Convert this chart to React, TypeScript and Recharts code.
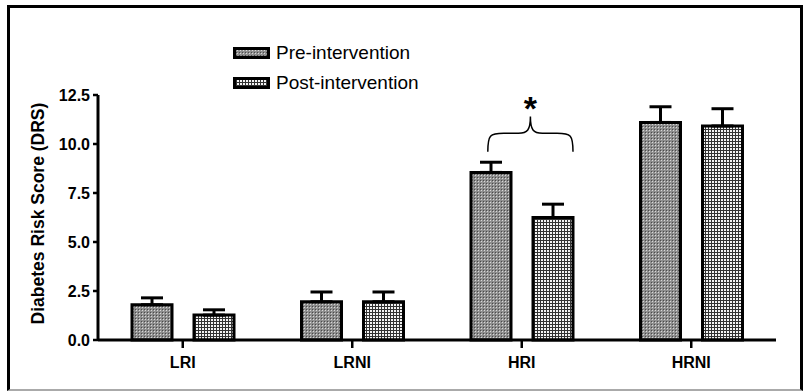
import { BarChart, Bar, XAxis, YAxis, ErrorBar } from 'recharts';

const groups = ['LRI', 'LRNI', 'HRI', 'HRNI'];
const preValues = [1.8, 1.95, 8.55, 11.1];
const preErrors = [0.35, 0.5, 0.52, 0.8];
const postValues = [1.27, 1.95, 6.25, 10.92];
const postErrors = [0.27, 0.5, 0.68, 0.88];
const yTicks = [0, 2.5, 5, 7.5, 10, 12.5];

const seriesNames = ['Pre-intervention', 'Post-intervention'];
const patternIds = ['prePattern', 'postPattern'];

const chartData = groups.map((g, i) => ({
    name: g,
    pre: preValues[i],
    preErr: [0, preErrors[i]],
    post: postValues[i],
    postErr: [0, postErrors[i]],
}));

const FONT = '"Liberation Sans", Arial, sans-serif';

// brace + asterisk over the HRI pair, placed from the pre bar geometry
function BraceLabel(props: any) {
    const { x, y, width, height, value, index } = props;
    if (index !== 2) return null;
    const perUnit = height / value;
    const base = y + height;
    const yAt = (v: number) => base - v * perUnit;
    const gap = 22;
    const left = x + width * 0.42;
    const right = x + 2 * width + gap;
    const mid = (left + right) / 2;
    const yEnd = yAt(9.6);
    const yBar = yAt(10.55);
    const yTip = yAt(11.4);
    const r = 8;
    const d = `M${left},${yEnd} C${left},${yBar + 2} ${left + 2},${yBar} ${left + r * 2},${yBar}
        L${mid - r * 1.5},${yBar} C${mid - 3},${yBar} ${mid},${yBar - 3} ${mid},${yTip}
        C${mid},${yBar - 3} ${mid + 3},${yBar} ${mid + r * 1.5},${yBar}
        L${right - r * 2},${yBar} C${right - 2},${yBar} ${right},${yBar + 2} ${right},${yEnd}`;
    return (
        <g>
            <path d={d} fill="none" stroke="#000" strokeWidth={1.5} />
            <text x={mid} y={yAt(11.2)} textAnchor="middle" fontFamily={FONT} fontWeight="bold" fontSize={34}>*</text>
        </g>
    );
}

function LegendBox() {
    return (
        <div style={{ position: 'absolute', left: 233, top: 38, fontFamily: FONT, fontSize: 19, color: '#000' }}>
            {seriesNames.map((n, i) => (
                <div key={n} style={{ display: 'flex', alignItems: 'center', height: 30 }}>
                    <svg width={40} height={14} style={{ marginRight: 3 }}>
                        <rect x={1.5} y={2.5} width={34} height={9} fill={`url(#${patternIds[i]})`} stroke="#000" strokeWidth={3} />
                    </svg>
                    <span>{n}</span>
                </div>
            ))}
        </div>
    );
}

function YLabel(props: any) {
    const vb = props.viewBox || {};
    const cx = 38;
    const cy = vb.y + vb.height / 2 - 4;
    return (
        <text x={cx} y={cy} transform={`rotate(-90 ${cx} ${cy})`} textAnchor="middle" dominantBaseline="central"
            fontFamily={FONT} fontWeight="bold" fontSize={17.5} fill="#000">
            Diabetes Risk Score (DRS)
        </text>
    );
}

export default function App() {
    return (
        <div style={{ position: 'relative', width: 808, height: 392, background: '#fff' }}>
            <style>{'body{margin:0}'}</style>
            <div style={{
                position: 'absolute', left: 7, top: 5, width: 796, height: 386,
                borderTop: '3px solid #000', borderLeft: '3px solid #000', borderRight: '3px solid #000',
                borderBottom: '2px solid #aaa', boxSizing: 'border-box',
            }} />
            <BarChart
                width={808}
                height={392}
                data={chartData}
                margin={{ top: 95, right: 32, bottom: 22, left: 38 }}
                barSize={40}
                barGap={22}
                style={{ position: 'absolute', left: 0, top: 0 }}
            >
                <defs>
                    <pattern id="prePattern" width={3} height={3} patternUnits="userSpaceOnUse">
                        <rect width={3} height={3} fill="#8e8e8e" />
                        <rect x={0} y={0} width={1} height={1} fill="#4a4a4a" />
                        <rect x={1} y={1} width={1} height={1} fill="#d8d8d8" />
                    </pattern>
                    <pattern id="postPattern" width={3} height={3} patternUnits="userSpaceOnUse">
                        <rect width={3} height={3} fill="#f4f4f4" />
                        <rect x={0} y={0} width={3} height={1} fill="#333" />
                        <rect x={0} y={0} width={1} height={3} fill="#333" />
                    </pattern>
                </defs>
                <XAxis
                    dataKey="name"
                    height={30}
                    axisLine={{ stroke: '#000', strokeWidth: 3 }}
                    tickLine={{ stroke: '#000', strokeWidth: 2.5 }}
                    tickSize={8}
                    tick={{ fill: '#000', fontFamily: FONT, fontWeight: 'bold', fontSize: 16 }}
                    tickMargin={9}
                />
                <YAxis
                    domain={[0, 12.5]}
                    ticks={yTicks}
                    width={60}
                    interval={0}
                    tickFormatter={(v: number) => v.toFixed(1)}
                    axisLine={{ stroke: '#000', strokeWidth: 3 }}
                    tickLine={{ stroke: '#000', strokeWidth: 2.5 }}
                    tickSize={5}
                    tickMargin={3}
                    tick={{ fill: '#000', fontFamily: FONT, fontWeight: 'bold', fontSize: 16 }}
                    label={{ content: <YLabel /> }}
                />
                <Bar dataKey="pre" name={seriesNames[0]} fill="url(#prePattern)" stroke="#000" strokeWidth={3}
                    isAnimationActive={false} label={<BraceLabel />}>
                    <ErrorBar dataKey="preErr" direction="y" width={11} stroke="#000" strokeWidth={3} />
                </Bar>
                <Bar dataKey="post" name={seriesNames[1]} fill="url(#postPattern)" stroke="#000" strokeWidth={3}
                    isAnimationActive={false}>
                    <ErrorBar dataKey="postErr" direction="y" width={11} stroke="#000" strokeWidth={3} />
                </Bar>
            </BarChart>
            <LegendBox />
        </div>
    );
}
